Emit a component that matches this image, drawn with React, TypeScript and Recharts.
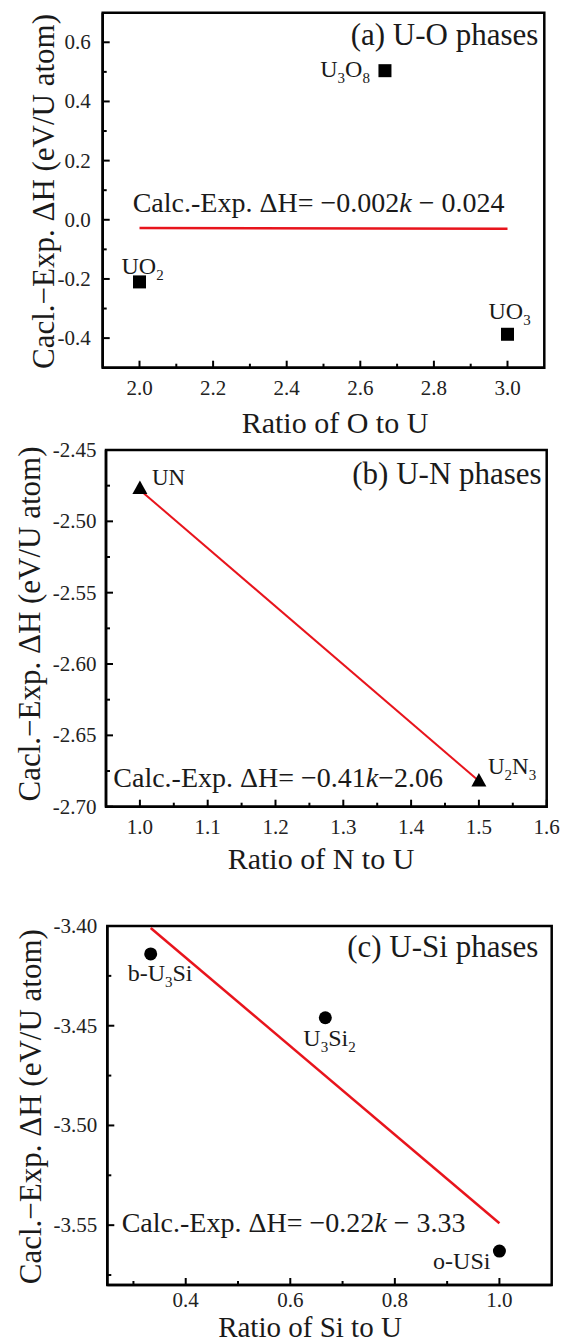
import React from 'react';
import { ScatterChart, Scatter, XAxis, YAxis, ReferenceLine, ReferenceArea } from 'recharts';

const FONT = "'Liberation Serif', 'Times New Roman', Times, serif";
const RED = '#e8141c';
const INK = '#1a1a1a';

// ---------- (a) U-O phases ----------
const uoNames = ['UO2', 'U3O8', 'UO3'];
const uoRatio = [2.0, 2.667, 3.0];
const uoDeltaH = [-0.21, 0.504, -0.387];
const uoFitRatio = [2.0, 3.0];
const uoFitDeltaH = [-0.028, -0.03];
const uoXTicks = [2.0, 2.1, 2.2, 2.3, 2.4, 2.5, 2.6, 2.7, 2.8, 2.9, 3.0];
const uoXMajor = [2.0, 2.2, 2.4, 2.6, 2.8, 3.0];
const uoYTicks = [-0.4, -0.3, -0.2, -0.1, 0, 0.1, 0.2, 0.3, 0.4, 0.5, 0.6];
const uoYMajor = [-0.4, -0.2, 0, 0.2, 0.4, 0.6];

// ---------- (b) U-N phases ----------
const unNames = ['UN', 'U2N3'];
const unRatio = [1.0, 1.5];
const unDeltaH = [-2.477, -2.682];
const unFitRatio = [1.0, 1.5];
const unFitDeltaH = [-2.478, -2.682];
const unXTicks = [1.0, 1.05, 1.1, 1.15, 1.2, 1.25, 1.3, 1.35, 1.4, 1.45, 1.5, 1.55, 1.6];
const unXMajor = [1.0, 1.1, 1.2, 1.3, 1.4, 1.5, 1.6];
const unYTicks = [-2.7, -2.675, -2.65, -2.625, -2.6, -2.575, -2.55, -2.525, -2.5, -2.475, -2.45];
const unYMajor = [-2.7, -2.65, -2.6, -2.55, -2.5, -2.45];

// ---------- (c) U-Si phases ----------
const usiNames = ['b-U3Si', 'U3Si2', 'o-USi'];
const usiRatio = [0.333, 0.667, 1.0];
const usiDeltaH = [-3.414, -3.446, -3.563];
const usiFitRatio = [0.333, 1.0];
const usiFitDeltaH = [-3.401, -3.549];
const usiXTicks = [0.3, 0.4, 0.5, 0.6, 0.7, 0.8, 0.9, 1.0];
const usiXMajor = [0.4, 0.6, 0.8, 1.0];
const usiYTicks = [-3.575, -3.55, -3.525, -3.5, -3.475, -3.45, -3.425, -3.4];
const usiYMajor = [-3.55, -3.5, -3.45, -3.4];

const Y_TITLE = 'Cacl.\u2212Exp. \u0394H (eV/U atom)';

const isMajor = (majors: number[], v: number) => majors.some((m) => Math.abs(m - v) < 1e-9);

function Formula({ text, x, y, anchor, size, subSize, subShift }: any) {
  const parts: string[] = text.match(/\d+|[^\d]+/g) || [];
  let shifted = false;
  return (
    <text x={x} y={y} textAnchor={anchor} fontFamily={FONT} fontSize={size} fill={INK}>
      {parts.map((p, i) => {
        const sub = /^\d+$/.test(p);
        const dy = sub ? subShift : shifted ? -subShift : 0;
        shifted = sub;
        return (
          <tspan key={i} dy={dy} fontSize={sub ? subSize : size}>
            {p}
          </tspan>
        );
      })}
    </text>
  );
}

function makeXTick(majors: number[], decimals: number, labelDy: number) {
  return (props: any) => {
    const { x, y, payload } = props;
    const v = payload.value;
    const maj = isMajor(majors, v);
    return (
      <g>
        <line x1={x} x2={x} y1={y} y2={y - (maj ? 7 : 4)} stroke="#000" strokeWidth={2} />
        {maj && (
          <text x={x} y={y + labelDy} textAnchor="middle" fontFamily={FONT} fontSize={21} fill="#222">
            {v.toFixed(decimals)}
          </text>
        )}
      </g>
    );
  };
}

function makeYTick(majors: number[], decimals: number, gap: number) {
  return (props: any) => {
    const { x, y, payload } = props;
    const v = payload.value;
    const maj = isMajor(majors, v);
    return (
      <g>
        <line x1={x} x2={x + (maj ? 7 : 4)} y1={y} y2={y} stroke="#000" strokeWidth={2} />
        {maj && (
          <text x={x - gap} y={y + 7} textAnchor="end" fontFamily={FONT} fontSize={21} fill="#222">
            {v.toFixed(decimals)}
          </text>
        )}
      </g>
    );
  };
}

function makeShape(kind: string, labelPos: any, labelSize: number) {
  return (props: any) => {
    const { cx, cy, payload } = props;
    const lp = labelPos[payload.name];
    let marker: any;
    if (kind === 'square') {
      marker = <rect x={cx - 6.5} y={cy - 6.5} width={13} height={13} fill="#000" />;
    } else if (kind === 'triangle') {
      marker = (
        <polygon points={`${cx},${cy - 8} ${cx + 7.5},${cy + 5.5} ${cx - 7.5},${cy + 5.5}`} fill="#000" />
      );
    } else {
      marker = <circle cx={cx} cy={cy} r={6.5} fill="#000" />;
    }
    return (
      <g>
        {marker}
        <Formula
          text={payload.name}
          x={cx + lp.dx}
          y={cy + lp.dy}
          anchor={lp.anchor}
          size={labelSize}
          subSize={15}
          subShift={6}
        />
      </g>
    );
  };
}

function Panel(p: any) {
  const data = p.ratio.map((r: number, i: number) => ({ x: r, y: p.dh[i], name: p.names[i] }));
  const segment = p.fitX.map((r: number, i: number) => ({ x: r, y: p.fitY[i] }));
  const t = p.text;
  const annotations = () => (
    <g>
      <text x={t.phase.x} y={t.phase.y} textAnchor="end" fontFamily={FONT} fontSize={31} fill={INK}>
        {t.phaseText}
      </text>
      <text x={t.eq.x} y={t.eq.y} fontFamily={FONT} fontSize={28} fill={INK}>
        {t.eqPre}
        <tspan fontStyle="italic">k</tspan>
        {t.eqPost}
      </text>
      <text x={t.xTitle.x} y={t.xTitle.y} textAnchor="middle" fontFamily={FONT} fontSize={t.xTitleSize} fill={INK}>
        {t.xTitleText}
      </text>
      <text
        x={t.yTitle.x}
        y={t.yTitle.y}
        textAnchor="middle"
        fontFamily={FONT}
        fontSize={31}
        fill={INK}
        transform={`rotate(-90, ${t.yTitle.x}, ${t.yTitle.y})`}
      >
        {Y_TITLE}
      </text>
    </g>
  );
  return (
    <ScatterChart width={566} height={p.height} margin={p.margin}>
      <XAxis
        type="number"
        dataKey="x"
        domain={p.xDomain}
        allowDataOverflow
        ticks={p.xTicks}
        interval={0}
        height={p.xAxisHeight}
        tickSize={0}
        tickMargin={0}
        tickLine={false}
        axisLine={{ stroke: '#000', strokeWidth: 2.5 }}
        tick={makeXTick(p.xMajor, p.xDec, p.xLabelDy)}
      />
      <YAxis
        type="number"
        dataKey="y"
        domain={p.yDomain}
        allowDataOverflow
        ticks={p.yTicks}
        interval={0}
        width={p.yAxisWidth}
        tickSize={0}
        tickMargin={0}
        tickLine={false}
        axisLine={{ stroke: '#000', strokeWidth: 2.5 }}
        tick={makeYTick(p.yMajor, p.yDec, p.yGap)}
      />
      <ReferenceArea
        x1={p.xDomain[0]}
        x2={p.xDomain[1]}
        y1={p.yDomain[0]}
        y2={p.yDomain[1]}
        fill="none"
        fillOpacity={0}
        stroke="#000"
        strokeWidth={2.5}
        ifOverflow="visible"
        label={annotations}
      />
      <ReferenceLine segment={segment} stroke={RED} strokeWidth={p.lineWidth} ifOverflow="visible" />
      <Scatter
        data={data}
        isAnimationActive={false}
        shape={makeShape(p.marker, p.labelPos, p.labelSize)}
      />
    </ScatterChart>
  );
}

export default function App() {
  return (
    <div style={{ position: 'absolute', left: 0, top: 0, width: 566, height: 1344, background: '#fff', overflow: 'hidden' }}>
      <style>{`.recharts-surface { overflow: visible !important; } .recharts-wrapper { overflow: visible !important; }`}</style>
      <div style={{ position: 'absolute', left: 0, top: 0 }}>
        <Panel
          height={440}
          margin={{ top: 12.7, right: 21.7, bottom: 0, left: 0 }}
          yAxisWidth={102.7}
          xAxisHeight={72.3}
          xDomain={[1.9, 3.1]}
          yDomain={[-0.5, 0.7]}
          xTicks={uoXTicks}
          xMajor={uoXMajor}
          xDec={1}
          xLabelDy={27.3}
          yTicks={uoYTicks}
          yMajor={uoYMajor}
          yDec={1}
          yGap={12}
          ratio={uoRatio}
          dh={uoDeltaH}
          names={uoNames}
          fitX={uoFitRatio}
          fitY={uoFitDeltaH}
          lineWidth={2.5}
          marker="square"
          labelSize={24}
          labelPos={{
            UO2: { dx: -18, dy: -8, anchor: 'start' },
            U3O8: { dx: -15, dy: 6, anchor: 'end' },
            UO3: { dx: -19, dy: -15, anchor: 'start' },
          }}
          text={{
            phaseText: '(a) U-O phases',
            phase: { x: 538.3, y: 45 },
            eqPre: 'Calc.-Exp. \u0394H= \u22120.002',
            eqPost: ' \u2212 0.024',
            eq: { x: 132.7, y: 211.7 },
            xTitleText: 'Ratio of O to U',
            xTitleSize: 30,
            xTitle: { x: 335, y: 433 },
            yTitle: { x: 53.5, y: 191.5 },
          }}
        />
      </div>
      <div style={{ position: 'absolute', left: 0, top: 440 }}>
        <Panel
          height={420}
          margin={{ top: 10, right: 19.3, bottom: 0, left: 0 }}
          yAxisWidth={106}
          xAxisHeight={53.3}
          xDomain={[0.95, 1.6]}
          yDomain={[-2.7, -2.45]}
          xTicks={unXTicks}
          xMajor={unXMajor}
          xDec={1}
          xLabelDy={27.3}
          yTicks={unYTicks}
          yMajor={unYMajor}
          yDec={2}
          yGap={9.5}
          ratio={unRatio}
          dh={unDeltaH}
          names={unNames}
          fitX={unFitRatio}
          fitY={unFitDeltaH}
          lineWidth={2}
          marker="triangle"
          labelSize={23}
          labelPos={{
            UN: { dx: 12, dy: -4, anchor: 'start' },
            U2N3: { dx: 9, dy: -7, anchor: 'start' },
          }}
          text={{
            phaseText: '(b) U-N phases',
            phase: { x: 541.7, y: 43.5 },
            eqPre: 'Calc.-Exp. \u0394H= \u22120.41',
            eqPost: '\u22122.06',
            eq: { x: 113.3, y: 346.7 },
            xTitleText: 'Ratio of N to U',
            xTitleSize: 30,
            xTitle: { x: 321, y: 429 },
            yTitle: { x: 40, y: 184 },
          }}
        />
      </div>
      <div style={{ position: 'absolute', left: 0, top: 860 }}>
        <Panel
          height={484}
          margin={{ top: 66, right: 14.3, bottom: 0, left: 0 }}
          yAxisWidth={107.3}
          xAxisHeight={59}
          xDomain={[0.25, 1.1]}
          yDomain={[-3.58, -3.4]}
          xTicks={usiXTicks}
          xMajor={usiXMajor}
          xDec={1}
          xLabelDy={21.5}
          yTicks={usiYTicks}
          yMajor={usiYMajor}
          yDec={2}
          yGap={10}
          ratio={usiRatio}
          dh={usiDeltaH}
          names={usiNames}
          fitX={usiFitRatio}
          fitY={usiFitDeltaH}
          lineWidth={2.5}
          marker="circle"
          labelSize={24}
          labelPos={{
            'b-U3Si': { dx: -23, dy: 27, anchor: 'start' },
            U3Si2: { dx: -22, dy: 28, anchor: 'start' },
            'o-USi': { dx: -9, dy: 18, anchor: 'end' },
          }}
          text={{
            phaseText: '(c) U-Si phases',
            phase: { x: 538.3, y: 96.7 },
            eqPre: 'Calc.-Exp. \u0394H= \u22120.22',
            eqPost: ' \u2212 3.33',
            eq: { x: 121.7, y: 371.7 },
            xTitleText: 'Ratio of Si to U',
            xTitleSize: 29,
            xTitle: { x: 310, y: 477 },
            yTitle: { x: 41.5, y: 246.7 },
          }}
        />
      </div>
    </div>
  );
}
